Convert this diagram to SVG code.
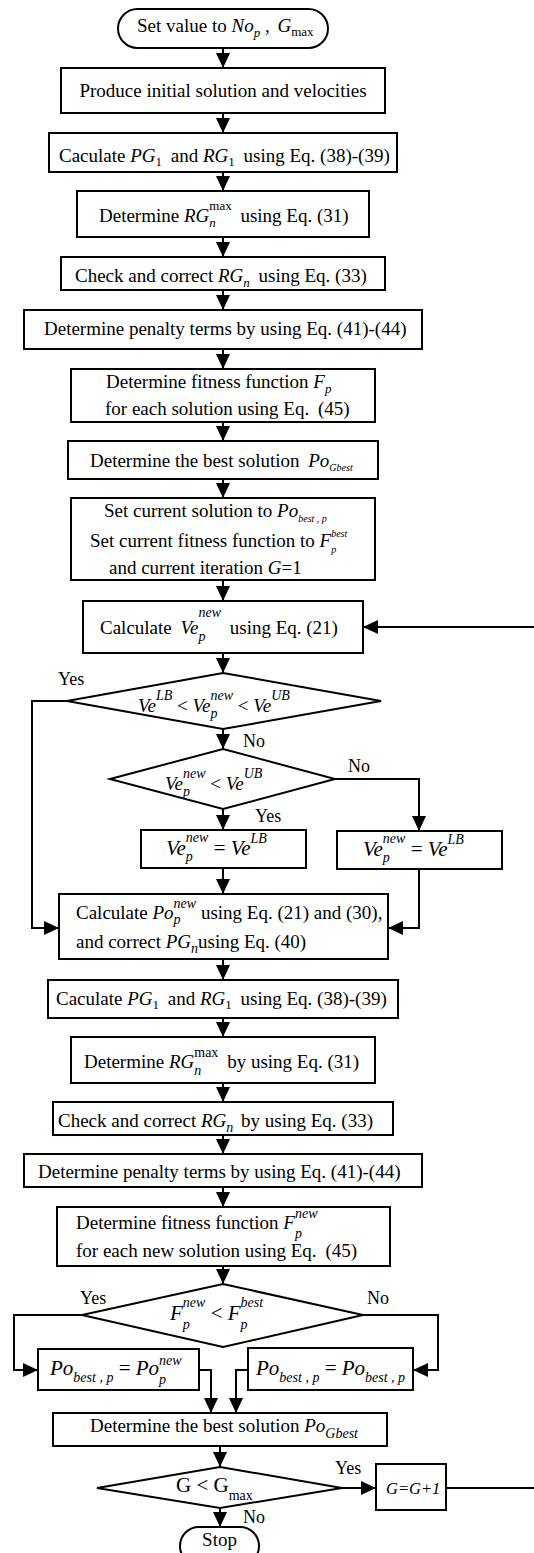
<svg xmlns="http://www.w3.org/2000/svg" width="534" height="1553" viewBox="0 0 534 1553" font-family="'Liberation Serif', 'Times New Roman', serif">
<defs>
<marker id="ah" viewBox="0 0 15 14" refX="15" refY="7" markerWidth="15" markerHeight="14" markerUnits="userSpaceOnUse" orient="auto"><path d="M0,0 L15,7 L0,14 Z" fill="#000"/></marker>
<style>
.b{fill:#fff;stroke:#000;stroke-width:2}
.c{fill:none;stroke:#000;stroke-width:2}
.a{fill:none;stroke:#000;stroke-width:2;marker-end:url(#ah)}
text{font-family:"Liberation Serif","Times New Roman",serif;font-size:19px;fill:#000}
.i{font-style:italic}
.s{font-size:13px}
.xs{font-size:10px}
.f{font-size:21px}
.m{font-size:14px}
.l{font-size:18px}
</style>
</defs>
<rect width="534" height="1553" fill="#fff"/>
<g id="connectors">
<path class="a" d="M223,48 V68"/>
<path class="a" d="M223,113 V133"/>
<path class="a" d="M223,172 V191"/>
<path class="a" d="M223,237 V257"/>
<path class="a" d="M223,290 V310"/>
<path class="a" d="M223,349 V369"/>
<path class="a" d="M223,422 V441"/>
<path class="a" d="M223,479 V498"/>
<path class="a" d="M223,580 V601"/>
<path class="a" d="M446,1488 H545 V627 H363"/>
<path class="a" d="M223,653 V673"/>
<path class="a" d="M67,701 H32 V928 H59"/>
<path class="a" d="M223,729 V749"/>
<path class="a" d="M335,779 H419 V831"/>
<path class="a" d="M223,809 V830"/>
<path class="a" d="M223,868 V894"/>
<path class="a" d="M419,869 V928 H388"/>
<path class="a" d="M223,959 V980"/>
<path class="a" d="M223,1018 V1037"/>
<path class="a" d="M223,1083 V1102"/>
<path class="a" d="M223,1135 V1154"/>
<path class="a" d="M223,1187 V1207"/>
<path class="a" d="M223,1266 V1284"/>
<path class="a" d="M82,1315 H14 V1370 H38"/>
<path class="a" d="M363,1315 H438 V1370 H413"/>
<path class="a" d="M199,1370 H211 V1413"/>
<path class="a" d="M248,1370 H236 V1413"/>
<path class="a" d="M220,1446 V1467"/>
<path class="a" d="M342,1488 H376"/>
<path class="a" d="M220,1508 V1527"/>
<text class="l" x="58" y="685">Yes</text>
<text class="l" x="243" y="747">No</text>
<text class="l" x="348" y="772">No</text>
<text class="l" x="255" y="822">Yes</text>
<text class="l" x="80" y="1304">Yes</text>
<text class="l" x="367" y="1304">No</text>
<text class="l" x="335" y="1474">Yes</text>
<text class="l" x="243" y="1523">No</text>
</g>
<g id="n1"><rect class="b" x="118" y="9" width="210" height="39" rx="19.5"/>
<text x="137" y="32">Set value to <tspan class="i">No</tspan><tspan class="s i" dy="5">p</tspan><tspan dy="-5"> , </tspan><tspan class="i" dx="3">G</tspan><tspan class="s" dy="4">max</tspan></text></g>
<g id="n2"><rect class="b" x="61" y="68" width="324" height="45"/>
<text x="223" y="97" text-anchor="middle">Produce initial solution and velocities</text></g>
<g id="n3"><rect class="b" x="49" y="133" width="348" height="39"/>
<text x="59" y="162">Caculate <tspan class="i">PG</tspan><tspan class="s" dy="4">1</tspan><tspan dy="-4" dx="4"> and </tspan><tspan class="i">RG</tspan><tspan class="s" dy="4">1</tspan><tspan dy="-4" dx="4"> using Eq. (38)-(39)</tspan></text></g>
<g id="n4"><rect class="b" x="77" y="191" width="292" height="46"/>
<text x="99" y="222">Determine <tspan class="i">RG</tspan><tspan class="s i" dy="5">n</tspan><tspan class="s" dx="-6.5" dy="-17">max</tspan><tspan dy="12" dx="4"> using Eq. (31)</tspan></text></g>
<g id="n5"><rect class="b" x="61" y="257" width="324" height="33"/>
<text x="75" y="282">Check and correct <tspan class="i">RG</tspan><tspan class="s i" dy="5">n</tspan><tspan dy="-5" dx="4"> using Eq. (33)</tspan></text></g>
<g id="n6"><rect class="b" x="24" y="310" width="398" height="39"/>
<text x="44" y="335">Determine penalty terms by using Eq. (41)-(44)</text></g>
<g id="n7"><rect class="b" x="71" y="369" width="304" height="53"/>
<text x="106" y="388">Determine fitness function <tspan class="i">F</tspan><tspan class="s i" dy="5">p</tspan></text>
<text x="105" y="415">for each solution using Eq. <tspan dx="4">(45)</tspan></text></g>
<g id="n8"><rect class="b" x="68" y="441" width="310" height="38"/>
<text x="90" y="467">Determine the best solution <tspan class="i" dx="4">Po</tspan><tspan class="xs i" dy="4">Gbest</tspan></text></g>
<g id="n9"><rect class="b" x="71" y="498" width="304" height="82"/>
<text x="104" y="517">Set current solution to <tspan class="i">Po</tspan><tspan class="xs i" dy="5">best , p</tspan></text>
<text x="90" y="547">Set current fitness function to <tspan class="i">F</tspan><tspan class="xs i" dy="6">p</tspan><tspan class="xs i" dx="-5" dy="-16">best</tspan></text>
<text x="109" y="574">and current iteration <tspan class="i">G</tspan>=1</text></g>
<g id="n10"><rect class="b" x="83" y="601" width="280" height="52"/>
<text x="100" y="634">Calculate <tspan class="i" dx="4">Ve</tspan><tspan class="m i" dy="7">p</tspan><tspan class="m i" dx="-7" dy="-24">new</tspan><tspan dy="17" dx="4"> using Eq. (21)</tspan></text></g>
<g id="d1"><polygon class="b" points="223,673 381,701 223,729 67,701"/>
<text class="i" font-size="20" x="138" y="712">Ve<tspan class="m" dy="-12">LB</tspan><tspan font-style="normal" dy="12"> &lt; </tspan>Ve<tspan class="m" dy="6">p</tspan><tspan class="m" dx="-7" dy="-18">new</tspan><tspan font-style="normal" dy="12"> &lt; </tspan>Ve<tspan class="m" dy="-12">UB</tspan></text></g>
<g id="d2"><polygon class="b" points="223,749 335,779 223,809 110,779"/>
<text class="i" font-size="20" x="165" y="790">Ve<tspan class="m" dy="6">p</tspan><tspan class="m" dx="-7" dy="-18">new</tspan><tspan font-style="normal" dy="12"> &lt; </tspan>Ve<tspan class="m" dy="-12">UB</tspan></text></g>
<g id="n11"><rect class="b" x="141" y="830" width="165" height="38"/>
<text class="f i" x="166" y="855">Ve<tspan class="m" dy="6">p</tspan><tspan class="m" dx="-7" dy="-19">new</tspan><tspan font-style="normal" dy="13"> = </tspan>Ve<tspan class="m" dy="-12">LB</tspan></text></g>
<g id="n12"><rect class="b" x="337" y="831" width="165" height="38"/>
<text class="f i" x="363" y="856">Ve<tspan class="m" dy="6">p</tspan><tspan class="m" dx="-7" dy="-19">new</tspan><tspan font-style="normal" dy="13"> = </tspan>Ve<tspan class="m" dy="-12">LB</tspan></text></g>
<g id="n13"><rect class="b" x="59" y="894" width="329" height="65"/>
<text x="76" y="919">Calculate <tspan class="i">Po</tspan><tspan class="m i" dy="5">p</tspan><tspan class="m i" dx="-7" dy="-16">new</tspan><tspan dy="11"> using Eq. (21) and (30),</tspan></text>
<text x="76" y="948">and correct <tspan class="i">PG</tspan><tspan class="m i" dy="5">n</tspan><tspan dy="-5">using Eq. (40)</tspan></text></g>
<g id="n14"><rect class="b" x="48" y="980" width="350" height="38"/>
<text x="56" y="1005">Caculate <tspan class="i">PG</tspan><tspan class="s" dy="4">1</tspan><tspan dy="-4" dx="4"> and </tspan><tspan class="i">RG</tspan><tspan class="s" dy="4">1</tspan><tspan dy="-4" dx="4"> using Eq. (38)-(39)</tspan></text></g>
<g id="n15"><rect class="b" x="71" y="1037" width="304" height="46"/>
<text x="84" y="1068">Determine <tspan class="i">RG</tspan><tspan class="m i" dy="7">n</tspan><tspan class="m" dx="-7" dy="-18">max</tspan><tspan dy="11" dx="4"> by using Eq. (31)</tspan></text></g>
<g id="n16"><rect class="b" x="53" y="1102" width="340" height="33"/>
<text x="58" y="1127">Check and correct <tspan class="i">RG</tspan><tspan class="m i" dy="5">n</tspan><tspan dy="-5" dx="3"> by using Eq. (33)</tspan></text></g>
<g id="n17"><rect class="b" x="24" y="1154" width="398" height="33"/>
<text x="38" y="1178">Determine penalty terms by using Eq. (41)-(44)</text></g>
<g id="n18"><rect class="b" x="57" y="1207" width="333" height="59"/>
<text x="76" y="1229">Determine fitness function <tspan class="i">F</tspan><tspan class="m i" dy="9">p</tspan><tspan class="m i" dx="-7" dy="-20">new</tspan></text>
<text x="76" y="1257">for each new solution using Eq. <tspan dx="4">(45)</tspan></text></g>
<g id="d3"><polygon class="b" points="223,1284 363,1315 223,1347 82,1315"/>
<text class="f i" x="170" y="1320">F<tspan class="m" dy="9">p</tspan><tspan class="m" dx="-7" dy="-22">new</tspan><tspan font-style="normal" dy="13"> &lt; </tspan>F<tspan class="m" dy="9">p</tspan><tspan class="m" dx="-7" dy="-22">best</tspan></text></g>
<g id="n19"><rect class="b" x="38" y="1349" width="161" height="41"/>
<text class="f i" x="50" y="1375">Po<tspan class="m" dy="7">best , p</tspan><tspan font-style="normal" dy="-7"> = </tspan>Po<tspan class="m" dy="9">p</tspan><tspan class="m" dx="-7" dy="-19">new</tspan></text></g>
<g id="n20"><rect class="b" x="248" y="1348" width="165" height="42"/>
<text class="f i" x="256" y="1375">Po<tspan class="m" dy="7">best , p</tspan><tspan font-style="normal" dy="-7"> = </tspan>Po<tspan class="m" dy="7">best , p</tspan></text></g>
<g id="n21"><rect class="b" x="53" y="1413" width="334" height="33"/>
<text x="90" y="1432">Determine the best solution <tspan class="i">Po</tspan><tspan class="m i" dy="6">Gbest</tspan></text></g>
<g id="d4"><polygon class="b" points="220,1467 342,1488 220,1508 97,1488"/>
<text class="f" x="176" y="1492">G &lt; G<tspan class="m" dy="8">max</tspan></text></g>
<g id="n22"><rect class="b" x="376" y="1464" width="70" height="46"/>
<text class="i" x="386" y="1494" style="font-size:16.5px">G=G+1</text></g>
<g id="n23"><rect class="b" x="180" y="1527" width="79" height="38" rx="19"/>
<text x="219.5" y="1546" text-anchor="middle">Stop</text></g>
</svg>
